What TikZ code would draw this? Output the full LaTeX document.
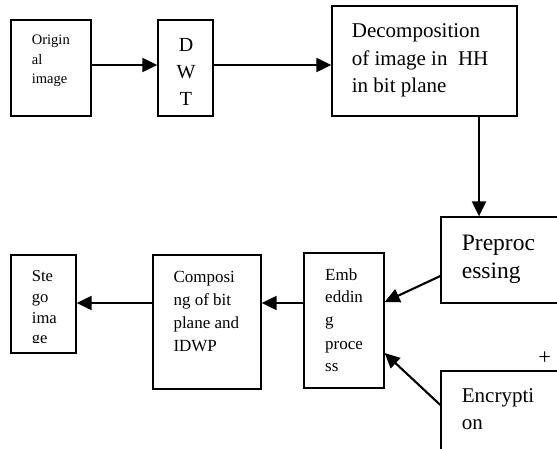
\documentclass[tikz,border=0pt]{standalone}
\usepackage{fontspec}
\setmainfont{Liberation Serif}
\usetikzlibrary{arrows.meta}
\begin{document}
\begin{tikzpicture}[x=1pt,y=-1pt,
  box/.style={draw,line width=1.3pt,inner sep=0pt,minimum width=#1},
  conn/.style={line width=2.1pt,-{Triangle[length=15pt,width=14pt]}},
  txt/.style={inner sep=0pt,anchor=base west},
  ctxt/.style={inner sep=0pt,anchor=base}]
\useasboundingbox (0,0) rectangle (557,448);
\clip (0,0) rectangle (557,448);
% boxes
\node[box=80pt,minimum height=96pt] (orig) at (51,68) {};
\node[box=55pt,minimum height=96pt] (dwt) at (185.5,68) {};
\node[box=185pt,minimum height=110pt] (decomp) at (424.5,61) {};
\node[box=159pt,minimum height=86pt] (pre) at (520.5,260) {};
\node[box=159pt,minimum height=109pt] (enc) at (520.5,425.5) {};
\node[box=80pt,minimum height=135pt] (emb) at (344,320.5) {};
\node[box=108pt,minimum height=134pt] (comp) at (207,322) {};
\node[box=65pt,minimum height=98pt] (stego) at (43.5,304) {};
% texts
\begin{scope}[font=\fontsize{14.5}{17}\selectfont]
\node[txt] (o1) at (31.7,44) {Origin};
\node[txt] (o2) at (31.7,64) {al};
\node[txt] (o3) at (31.7,83) {image};
\end{scope}
\begin{scope}[font=\fontsize{20}{24}\selectfont]
\node[ctxt] (d1) at (186,51.7) {D};
\node[ctxt] (d2) at (186,78.3) {W};
\node[ctxt] (d3) at (186,105) {T};
\end{scope}
\begin{scope}[font=\fontsize{21}{25}\selectfont]
\node[txt] (c1) at (351.7,37) {Decomposition};
\node[txt] (c2) at (351.7,65) {of image in\ \ HH};
\node[txt] (c3) at (351.7,92.7) {in bit plane};
\node[txt] (e1) at (461.7,402.3) {Encrypti};
\node[txt] (e2) at (461.7,429.3) {on};
\end{scope}
\begin{scope}[font=\fontsize{23.5}{28}\selectfont]
\node[txt] (p1) at (461.7,250) {Preproc};
\node[txt] (p2) at (461.7,278) {essing};
\end{scope}
\begin{scope}[font=\fontsize{17}{20}\selectfont]
\node[txt] (m1) at (325,280) {Emb};
\node[txt] (m2) at (325,302.7) {eddin};
\node[txt] (m3) at (325,325.7) {g};
\node[txt] (m4) at (325,349) {proce};
\node[txt] (m5) at (325,371) {ss};
\node[txt] (k1) at (173.3,282.3) {Composi};
\node[txt] (k2) at (173.3,305) {ng of bit};
\node[txt] (k3) at (173.3,328.3) {plane and};
\node[txt] (k4) at (173.3,351.7) {IDWP};
\end{scope}
\begin{scope}[font=\fontsize{16.6}{20}\selectfont]
\clip (11,255) rectangle (76,342);
\node[txt] (s1) at (31.7,281.7) {Ste};
\node[txt] (s2) at (31.7,302.5) {go};
\node[txt] (s3) at (31.7,323.2) {ima};
\node[txt] (s4) at (31.7,343.9) {ge};
\end{scope}
\node[inner sep=0pt,font=\fontsize{22.5}{26}\selectfont] (plus) at (544.7,358.3) {+};
% connectors
\draw[conn] ([yshift=3pt]orig.east) -- ([yshift=3pt]dwt.west);
\draw[conn] ([yshift=3pt]dwt.east) -- ([yshift=3pt]dwt.east -| decomp.west);
\draw[conn] ([xshift=54.5pt]decomp.south) -- ([xshift=54.5pt]decomp.south |- pre.north);
\draw[conn] ([yshift=-16pt]pre.west) -- ([yshift=18.5pt]emb.east);
\draw[conn] ([yshift=20.5pt]enc.west) -- ([yshift=-32.5pt]emb.east);
\draw[conn] ([yshift=17.5pt]emb.west) -- ([yshift=17.5pt]emb.west -| comp.east);
\draw[conn] ([yshift=19pt]comp.west) -- ([yshift=19pt]comp.west -| stego.east);
\end{tikzpicture}
\end{document}
